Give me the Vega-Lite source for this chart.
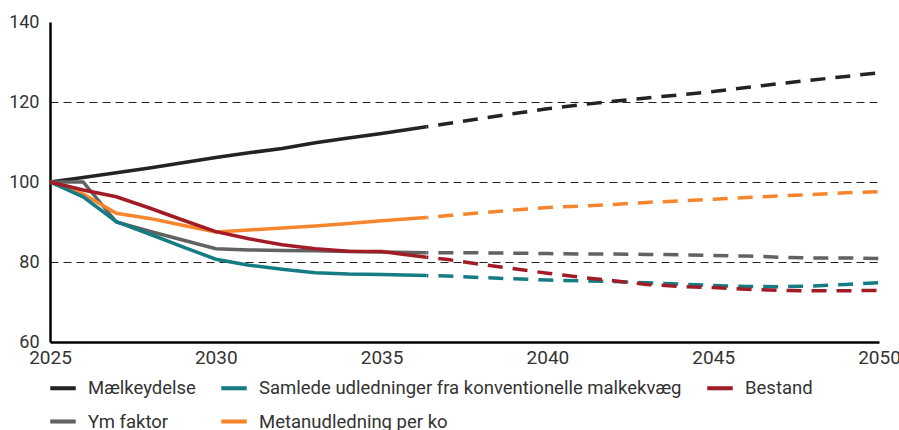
{
  "$schema": "https://vega.github.io/schema/vega-lite/v6.json",
  "width": 829,
  "height": 320,
  "autosize": {"type": "none"},
  "padding": {"left": 50, "top": 22, "right": 20, "bottom": 88},
  "background": "white",
  "config": {
    "font": "Roboto",
    "view": {"stroke": null},
    "axis": {"labelFont": "Roboto", "labelColor": "#333333", "ticks": false, "domainColor": "#000000", "domainWidth": 2.5, "title": null}
  },
  "data": {
    "values": [
      {"series": "Mælkeydelse", "phase": "historisk", "year": 2025, "value": 100},
      {"series": "Mælkeydelse", "phase": "historisk", "year": 2026, "value": 101.1},
      {"series": "Mælkeydelse", "phase": "historisk", "year": 2027, "value": 102.3},
      {"series": "Mælkeydelse", "phase": "historisk", "year": 2028, "value": 103.5},
      {"series": "Mælkeydelse", "phase": "historisk", "year": 2029, "value": 104.8},
      {"series": "Mælkeydelse", "phase": "historisk", "year": 2030, "value": 106.1},
      {"series": "Mælkeydelse", "phase": "historisk", "year": 2031, "value": 107.3},
      {"series": "Mælkeydelse", "phase": "historisk", "year": 2032, "value": 108.4},
      {"series": "Mælkeydelse", "phase": "historisk", "year": 2033, "value": 109.8},
      {"series": "Mælkeydelse", "phase": "historisk", "year": 2034, "value": 111.0},
      {"series": "Mælkeydelse", "phase": "historisk", "year": 2035, "value": 112.1},
      {"series": "Mælkeydelse", "phase": "historisk", "year": 2036.35, "value": 113.8},
      {"series": "Mælkeydelse", "phase": "fremskrivning", "year": 2036.35, "value": 113.8},
      {"series": "Mælkeydelse", "phase": "fremskrivning", "year": 2037, "value": 114.6},
      {"series": "Mælkeydelse", "phase": "fremskrivning", "year": 2038, "value": 115.9},
      {"series": "Mælkeydelse", "phase": "fremskrivning", "year": 2039, "value": 117.1},
      {"series": "Mælkeydelse", "phase": "fremskrivning", "year": 2040, "value": 118.3},
      {"series": "Mælkeydelse", "phase": "fremskrivning", "year": 2041, "value": 119.3},
      {"series": "Mælkeydelse", "phase": "fremskrivning", "year": 2042, "value": 120.2},
      {"series": "Mælkeydelse", "phase": "fremskrivning", "year": 2043, "value": 121.0},
      {"series": "Mælkeydelse", "phase": "fremskrivning", "year": 2044, "value": 121.8},
      {"series": "Mælkeydelse", "phase": "fremskrivning", "year": 2045, "value": 122.6},
      {"series": "Mælkeydelse", "phase": "fremskrivning", "year": 2046, "value": 123.6},
      {"series": "Mælkeydelse", "phase": "fremskrivning", "year": 2047, "value": 124.6},
      {"series": "Mælkeydelse", "phase": "fremskrivning", "year": 2048, "value": 125.5},
      {"series": "Mælkeydelse", "phase": "fremskrivning", "year": 2049, "value": 126.4},
      {"series": "Mælkeydelse", "phase": "fremskrivning", "year": 2050, "value": 127.3},

      {"series": "Ym faktor", "phase": "historisk", "year": 2025, "value": 100},
      {"series": "Ym faktor", "phase": "historisk", "year": 2026, "value": 100},
      {"series": "Ym faktor", "phase": "historisk", "year": 2027, "value": 90.0},
      {"series": "Ym faktor", "phase": "historisk", "year": 2028, "value": 87.7},
      {"series": "Ym faktor", "phase": "historisk", "year": 2029, "value": 85.5},
      {"series": "Ym faktor", "phase": "historisk", "year": 2030, "value": 83.3},
      {"series": "Ym faktor", "phase": "historisk", "year": 2031, "value": 83.0},
      {"series": "Ym faktor", "phase": "historisk", "year": 2032, "value": 82.9},
      {"series": "Ym faktor", "phase": "historisk", "year": 2033, "value": 82.8},
      {"series": "Ym faktor", "phase": "historisk", "year": 2034, "value": 82.6},
      {"series": "Ym faktor", "phase": "historisk", "year": 2035, "value": 82.5},
      {"series": "Ym faktor", "phase": "historisk", "year": 2036.35, "value": 82.3},
      {"series": "Ym faktor", "phase": "fremskrivning", "year": 2036.35, "value": 82.3},
      {"series": "Ym faktor", "phase": "fremskrivning", "year": 2037, "value": 82.3},
      {"series": "Ym faktor", "phase": "fremskrivning", "year": 2038, "value": 82.3},
      {"series": "Ym faktor", "phase": "fremskrivning", "year": 2039, "value": 82.2},
      {"series": "Ym faktor", "phase": "fremskrivning", "year": 2040, "value": 82.1},
      {"series": "Ym faktor", "phase": "fremskrivning", "year": 2041, "value": 82.0},
      {"series": "Ym faktor", "phase": "fremskrivning", "year": 2042, "value": 82.0},
      {"series": "Ym faktor", "phase": "fremskrivning", "year": 2043, "value": 81.9},
      {"series": "Ym faktor", "phase": "fremskrivning", "year": 2044, "value": 81.8},
      {"series": "Ym faktor", "phase": "fremskrivning", "year": 2045, "value": 81.6},
      {"series": "Ym faktor", "phase": "fremskrivning", "year": 2046, "value": 81.5},
      {"series": "Ym faktor", "phase": "fremskrivning", "year": 2047, "value": 81.2},
      {"series": "Ym faktor", "phase": "fremskrivning", "year": 2048, "value": 81.0},
      {"series": "Ym faktor", "phase": "fremskrivning", "year": 2049, "value": 81.0},
      {"series": "Ym faktor", "phase": "fremskrivning", "year": 2050, "value": 80.9},

      {"series": "Metanudledning per ko", "phase": "historisk", "year": 2025, "value": 100},
      {"series": "Metanudledning per ko", "phase": "historisk", "year": 2026, "value": 97.0},
      {"series": "Metanudledning per ko", "phase": "historisk", "year": 2027, "value": 92.2},
      {"series": "Metanudledning per ko", "phase": "historisk", "year": 2028, "value": 90.9},
      {"series": "Metanudledning per ko", "phase": "historisk", "year": 2029, "value": 89.2},
      {"series": "Metanudledning per ko", "phase": "historisk", "year": 2030, "value": 87.5},
      {"series": "Metanudledning per ko", "phase": "historisk", "year": 2031, "value": 88.0},
      {"series": "Metanudledning per ko", "phase": "historisk", "year": 2032, "value": 88.5},
      {"series": "Metanudledning per ko", "phase": "historisk", "year": 2033, "value": 89.0},
      {"series": "Metanudledning per ko", "phase": "historisk", "year": 2034, "value": 89.6},
      {"series": "Metanudledning per ko", "phase": "historisk", "year": 2035, "value": 90.3},
      {"series": "Metanudledning per ko", "phase": "historisk", "year": 2036.35, "value": 91.1},
      {"series": "Metanudledning per ko", "phase": "fremskrivning", "year": 2036.35, "value": 91.1},
      {"series": "Metanudledning per ko", "phase": "fremskrivning", "year": 2037, "value": 91.6},
      {"series": "Metanudledning per ko", "phase": "fremskrivning", "year": 2038, "value": 92.3},
      {"series": "Metanudledning per ko", "phase": "fremskrivning", "year": 2039, "value": 93.0},
      {"series": "Metanudledning per ko", "phase": "fremskrivning", "year": 2040, "value": 93.6},
      {"series": "Metanudledning per ko", "phase": "fremskrivning", "year": 2041, "value": 94.0},
      {"series": "Metanudledning per ko", "phase": "fremskrivning", "year": 2042, "value": 94.4},
      {"series": "Metanudledning per ko", "phase": "fremskrivning", "year": 2043, "value": 94.9},
      {"series": "Metanudledning per ko", "phase": "fremskrivning", "year": 2044, "value": 95.3},
      {"series": "Metanudledning per ko", "phase": "fremskrivning", "year": 2045, "value": 95.7},
      {"series": "Metanudledning per ko", "phase": "fremskrivning", "year": 2046, "value": 96.1},
      {"series": "Metanudledning per ko", "phase": "fremskrivning", "year": 2047, "value": 96.5},
      {"series": "Metanudledning per ko", "phase": "fremskrivning", "year": 2048, "value": 96.9},
      {"series": "Metanudledning per ko", "phase": "fremskrivning", "year": 2049, "value": 97.3},
      {"series": "Metanudledning per ko", "phase": "fremskrivning", "year": 2050, "value": 97.6},

      {"series": "Samlede udledninger fra konventionelle malkekvæg", "phase": "historisk", "year": 2025, "value": 100},
      {"series": "Samlede udledninger fra konventionelle malkekvæg", "phase": "historisk", "year": 2026, "value": 96.3},
      {"series": "Samlede udledninger fra konventionelle malkekvæg", "phase": "historisk", "year": 2027, "value": 90.1},
      {"series": "Samlede udledninger fra konventionelle malkekvæg", "phase": "historisk", "year": 2028, "value": 87.0},
      {"series": "Samlede udledninger fra konventionelle malkekvæg", "phase": "historisk", "year": 2029, "value": 83.8},
      {"series": "Samlede udledninger fra konventionelle malkekvæg", "phase": "historisk", "year": 2030, "value": 80.7},
      {"series": "Samlede udledninger fra konventionelle malkekvæg", "phase": "historisk", "year": 2031, "value": 79.2},
      {"series": "Samlede udledninger fra konventionelle malkekvæg", "phase": "historisk", "year": 2032, "value": 78.2},
      {"series": "Samlede udledninger fra konventionelle malkekvæg", "phase": "historisk", "year": 2033, "value": 77.3},
      {"series": "Samlede udledninger fra konventionelle malkekvæg", "phase": "historisk", "year": 2034, "value": 77.0},
      {"series": "Samlede udledninger fra konventionelle malkekvæg", "phase": "historisk", "year": 2035, "value": 76.9},
      {"series": "Samlede udledninger fra konventionelle malkekvæg", "phase": "historisk", "year": 2036.35, "value": 76.6},
      {"series": "Samlede udledninger fra konventionelle malkekvæg", "phase": "fremskrivning", "year": 2036.35, "value": 76.6},
      {"series": "Samlede udledninger fra konventionelle malkekvæg", "phase": "fremskrivning", "year": 2037, "value": 76.5},
      {"series": "Samlede udledninger fra konventionelle malkekvæg", "phase": "fremskrivning", "year": 2038, "value": 76.1},
      {"series": "Samlede udledninger fra konventionelle malkekvæg", "phase": "fremskrivning", "year": 2039, "value": 75.8},
      {"series": "Samlede udledninger fra konventionelle malkekvæg", "phase": "fremskrivning", "year": 2040, "value": 75.5},
      {"series": "Samlede udledninger fra konventionelle malkekvæg", "phase": "fremskrivning", "year": 2041, "value": 75.3},
      {"series": "Samlede udledninger fra konventionelle malkekvæg", "phase": "fremskrivning", "year": 2042, "value": 75.1},
      {"series": "Samlede udledninger fra konventionelle malkekvæg", "phase": "fremskrivning", "year": 2043, "value": 74.8},
      {"series": "Samlede udledninger fra konventionelle malkekvæg", "phase": "fremskrivning", "year": 2044, "value": 74.5},
      {"series": "Samlede udledninger fra konventionelle malkekvæg", "phase": "fremskrivning", "year": 2045, "value": 74.1},
      {"series": "Samlede udledninger fra konventionelle malkekvæg", "phase": "fremskrivning", "year": 2046, "value": 73.9},
      {"series": "Samlede udledninger fra konventionelle malkekvæg", "phase": "fremskrivning", "year": 2047, "value": 73.8},
      {"series": "Samlede udledninger fra konventionelle malkekvæg", "phase": "fremskrivning", "year": 2048, "value": 74.0},
      {"series": "Samlede udledninger fra konventionelle malkekvæg", "phase": "fremskrivning", "year": 2049, "value": 74.4},
      {"series": "Samlede udledninger fra konventionelle malkekvæg", "phase": "fremskrivning", "year": 2050, "value": 74.8},

      {"series": "Bestand", "phase": "historisk", "year": 2025, "value": 100},
      {"series": "Bestand", "phase": "historisk", "year": 2026, "value": 98.0},
      {"series": "Bestand", "phase": "historisk", "year": 2027, "value": 96.3},
      {"series": "Bestand", "phase": "historisk", "year": 2028, "value": 93.5},
      {"series": "Bestand", "phase": "historisk", "year": 2029, "value": 90.5},
      {"series": "Bestand", "phase": "historisk", "year": 2030, "value": 87.6},
      {"series": "Bestand", "phase": "historisk", "year": 2031, "value": 85.8},
      {"series": "Bestand", "phase": "historisk", "year": 2032, "value": 84.3},
      {"series": "Bestand", "phase": "historisk", "year": 2033, "value": 83.3},
      {"series": "Bestand", "phase": "historisk", "year": 2034, "value": 82.7},
      {"series": "Bestand", "phase": "historisk", "year": 2035, "value": 82.6},
      {"series": "Bestand", "phase": "historisk", "year": 2036.35, "value": 81.2},
      {"series": "Bestand", "phase": "fremskrivning", "year": 2036.35, "value": 81.2},
      {"series": "Bestand", "phase": "fremskrivning", "year": 2037, "value": 80.6},
      {"series": "Bestand", "phase": "fremskrivning", "year": 2038, "value": 79.4},
      {"series": "Bestand", "phase": "fremskrivning", "year": 2039, "value": 78.3},
      {"series": "Bestand", "phase": "fremskrivning", "year": 2040, "value": 77.2},
      {"series": "Bestand", "phase": "fremskrivning", "year": 2041, "value": 76.2},
      {"series": "Bestand", "phase": "fremskrivning", "year": 2042, "value": 75.3},
      {"series": "Bestand", "phase": "fremskrivning", "year": 2043, "value": 74.4},
      {"series": "Bestand", "phase": "fremskrivning", "year": 2044, "value": 73.9},
      {"series": "Bestand", "phase": "fremskrivning", "year": 2045, "value": 73.6},
      {"series": "Bestand", "phase": "fremskrivning", "year": 2046, "value": 73.2},
      {"series": "Bestand", "phase": "fremskrivning", "year": 2047, "value": 72.9},
      {"series": "Bestand", "phase": "fremskrivning", "year": 2048, "value": 72.8},
      {"series": "Bestand", "phase": "fremskrivning", "year": 2049, "value": 72.8},
      {"series": "Bestand", "phase": "fremskrivning", "year": 2050, "value": 72.9}
    ]
  },
  "encoding": {
    "x": {
      "field": "year", "type": "quantitative",
      "scale": {"domain": [2025, 2050], "nice": false, "zero": false},
      "axis": {"values": [2025, 2030, 2035, 2040, 2045, 2050], "format": "d", "grid": false, "labelPadding": 6, "labelFontSize": 19, "labelFlush": false}
    },
    "y": {
      "field": "value", "type": "quantitative",
      "scale": {"domain": [60, 140], "nice": false, "zero": false},
      "axis": {
        "values": [60, 80, 100, 120, 140], "labelPadding": 11, "labelFontSize": 18,
        "grid": true, "gridColor": "#222222", "gridWidth": 1, "gridDash": [8, 5],
        "gridOpacity": {"condition": {"test": "datum.value === 60 || datum.value === 140", "value": 0}, "value": 1}
      }
    },
    "order": {"field": "year", "type": "quantitative"}
  },
  "layer": [
    {
      "transform": [{"filter": "datum.phase === 'historisk'"}],
      "mark": {"type": "line", "strokeWidth": 3.5, "clip": false},
      "encoding": {
        "color": {
          "field": "series", "type": "nominal",
          "scale": {
            "domain": ["Mælkeydelse", "Samlede udledninger fra konventionelle malkekvæg", "Bestand", "Ym faktor", "Metanudledning per ko"],
            "range": ["#232323", "#167c84", "#a11c27", "#626262", "#f5862e"]
          },
          "legend": {
            "title": null, "orient": "none", "legendX": 0, "legendY": 353, "direction": "horizontal", "columns": 3,
            "symbolType": "M-1,-0.16L1,-0.16L1,0.16L-1,0.16Z", "symbolStrokeWidth": 0, "symbolSize": 650, "labelFont": "Roboto", "labelFontSize": 18.5,
            "labelColor": "#333333", "labelOffset": 12, "columnPadding": 25, "rowPadding": 10.5, "padding": 0, "labelLimit": 600,
            "encode": {"symbols": {"update": {"fill": {"scale": "color", "field": "value"}, "strokeWidth": {"value": 0}, "strokeDash": {"value": [1, 0]}}}}
          }
        }
      }
    },
    {
      "transform": [{"filter": "datum.phase === 'fremskrivning'"}],
      "mark": {"type": "line", "strokeWidth": 3.5, "strokeDash": [15, 10], "strokeDashOffset": 13, "clip": false},
      "encoding": {
        "stroke": {
          "field": "series", "type": "nominal",
          "scale": {
            "domain": ["Mælkeydelse", "Samlede udledninger fra konventionelle malkekvæg", "Bestand", "Ym faktor", "Metanudledning per ko"],
            "range": ["#232323", "#167c84", "#a11c27", "#626262", "#f5862e"]
          },
          "legend": null
        }
      }
    }
  ]
}
